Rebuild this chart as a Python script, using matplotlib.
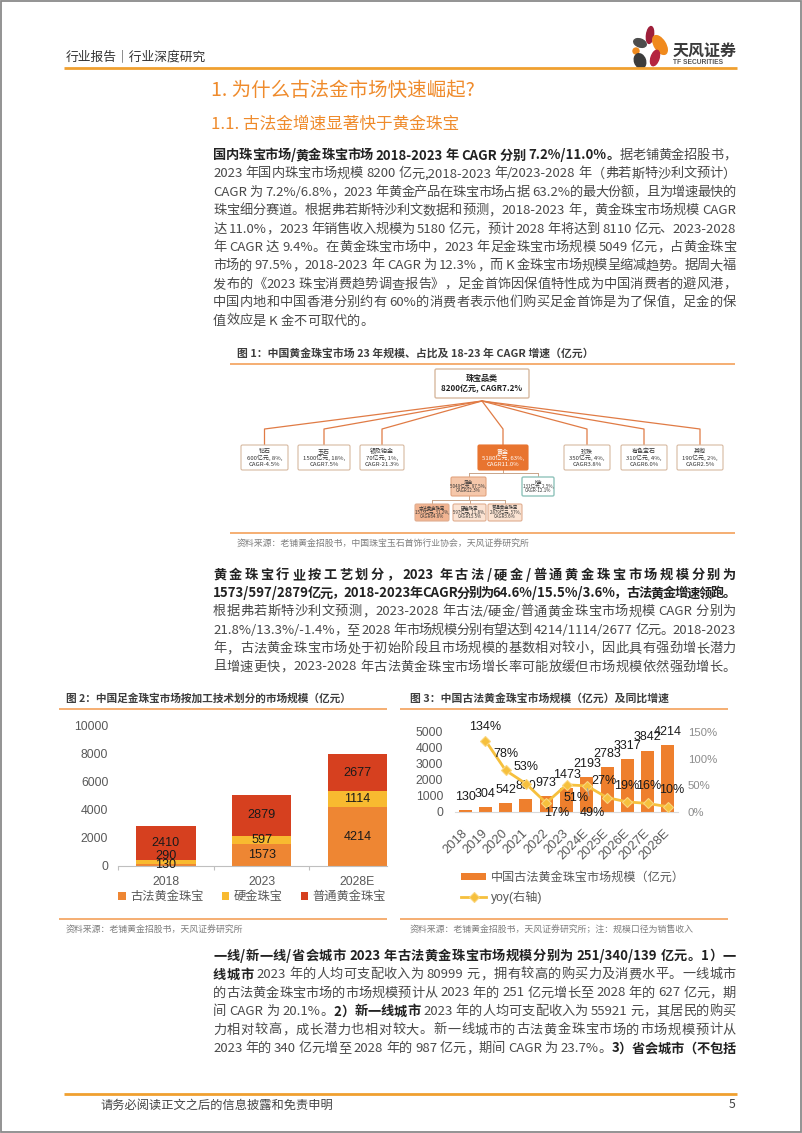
import numpy as np
import matplotlib
matplotlib.use('Agg')
import matplotlib.pyplot as plt
from matplotlib.patches import FancyBboxPatch, Ellipse, Rectangle, Circle
from matplotlib.font_manager import FontProperties

W, H = 802, 1133
CJK = ['Noto Sans CJK SC', 'DejaVu Sans']
CHART = ['Liberation Sans', 'Noto Sans CJK SC', 'DejaVu Sans']
plt.rcParams['font.family'] = CJK
plt.rcParams['axes.unicode_minus'] = False

# ---------------- data ----------------
header_left = '行业报告｜行业深度研究'
logo_name = '天风证券'
logo_en = 'TF SECURITIES'
title_1 = '1. 为什么古法金市场快速崛起?'
title_11 = '1.1. 古法金增速显著快于黄金珠宝'

p1_lines = [
    '*国内珠宝市场/黄金珠宝市场 2018-2023 年 CAGR 分别 7.2%/11.0%。*据老铺黄金招股书，',
    '2023 年国内珠宝市场规模 8200 亿元,2018-2023 年/2023-2028 年（弗若斯特沙利文预计）',
    'CAGR 为 7.2%/6.8%，2023 年黄金产品在珠宝市场占据 63.2%的最大份额，且为增速最快的',
    '珠宝细分赛道。根据弗若斯特沙利文数据和预测，2018-2023 年，黄金珠宝市场规模 CAGR',
    '达 11.0%，2023 年销售收入规模为 5180 亿元，预计 2028 年将达到 8110 亿元、2023-2028',
    '年 CAGR 达 9.4%。在黄金珠宝市场中，2023 年足金珠宝市场规模 5049 亿元，占黄金珠宝',
    '市场的 97.5%，2018-2023 年 CAGR 为 12.3%，而 K 金珠宝市场规模呈缩减趋势。据周大福',
    '发布的《2023 珠宝消费趋势调查报告》，足金首饰因保值特性成为中国消费者的避风港，',
    '中国内地和中国香港分别约有 60%的消费者表示他们购买足金首饰是为了保值，足金的保',
    '值效应是 K 金不可取代的。',
]
p2_lines = [
    '*黄金珠宝行业按工艺划分，2023 年古法/硬金/普通黄金珠宝市场规模分别为*',
    '*1573/597/2879亿元，2018-2023年CAGR分别为64.6%/15.5%/3.6%，古法黄金增速领跑。*',
    '根据弗若斯特沙利文预测，2023-2028 年古法/硬金/普通黄金珠宝市场规模 CAGR 分别为',
    '21.8%/13.3%/-1.4%，至 2028 年市场规模分别有望达到 4214/1114/2677 亿元。2018-2023',
    '年，古法黄金珠宝市场处于初始阶段且市场规模的基数相对较小，因此具有强劲增长潜力',
    '且增速更快，2023-2028 年古法黄金珠宝市场增长率可能放缓但市场规模依然强劲增长。',
]
p3_lines = [
    '*一线/新一线/省会城市 2023 年古法黄金珠宝市场规模分别为 251/340/139 亿元。1）一*',
    '*线城市* 2023 年的人均可支配收入为 80999 元，拥有较高的购买力及消费水平。一线城市',
    '的古法黄金珠宝市场的市场规模预计从 2023 年的 251 亿元增长至 2028 年的 627 亿元，期',
    '间 CAGR 为 20.1%。*2）新一线城市* 2023 年的人均可支配收入为 55921 元，其居民的购买',
    '力相对较高，成长潜力也相对较大。新一线城市的古法黄金珠宝市场的市场规模预计从',
    '2023 年的 340 亿元增至 2028 年的 987 亿元，期间 CAGR 为 23.7%。*3）省会城市（不包括*',
]

fig1_title = '图 1：中国黄金珠宝市场 23 年规模、占比及 18-23 年 CAGR 增速（亿元）'
fig1_source = '资料来源：老铺黄金招股书，中国珠宝玉石首饰行业协会，天风证券研究所'
tree_root = ['珠宝品类', '8200亿元, CAGR7.2%']
cat_names = ['钻石', '玉石', '银及铂金', '黄金', '珍珠', '有色宝石', '其他']
cat_size = [600, 1500, 70, 5180, 350, 310, 190]
cat_share = ['8%', '18%', '1%', '63%', '4%', '4%', '2%']
cat_cagr = ['-4.5%', '7.5%', '-21.3%', '11.0%', '3.8%', '6.0%', '2.5%']
gold_names = ['足金', 'K金']
gold_size = [5049, 131]
gold_share = ['97.5%', '2.5%']
gold_cagr = ['12.3%', '-12.1%']
zujin_names = ['古法黄金珠宝', '硬金珠宝', '普通黄金珠宝']
zujin_size = [1573, 597, 2879]
zujin_share = ['31.2%', '11.8%', '57%']
zujin_cagr = ['64.6%', '15.5%', '3.6%']

fig2_title = '图 2：中国足金珠宝市场按加工技术划分的市场规模（亿元）'
fig2_source = '资料来源：老铺黄金招股书，天风证券研究所'
fig2_years = ['2018', '2023', '2028E']
fig2_series = ['古法黄金珠宝', '硬金珠宝', '普通黄金珠宝']
fig2_gufa = [130, 1573, 4214]
fig2_yingjin = [290, 597, 1114]
fig2_putong = [2410, 2879, 2677]

fig3_title = '图 3：中国古法黄金珠宝市场规模（亿元）及同比增速'
fig3_source = '资料来源：老铺黄金招股书，天风证券研究所；注：规模口径为销售收入'
fig3_years = ['2018', '2019', '2020', '2021', '2022', '2023', '2024E', '2025E', '2026E', '2027E', '2028E']
fig3_size = [130, 304, 542, 830, 973, 1473, 2193, 2783, 3317, 3842, 4214]
fig3_yoy = [np.nan, 1.34, 0.78, 0.53, 0.17, 0.51, 0.49, 0.27, 0.19, 0.16, 0.10]
fig3_bar_label = '中国古法黄金珠宝市场规模（亿元）'
fig3_line_label = 'yoy(右轴)'

footer_text = '请务必阅读正文之后的信息披露和免责申明'
page_no = '5'

# ---------------- styles ----------------
ORANGE_T = '#EF8B2C'
LINE_OR = '#F3A15A'
BODY = '#4a4a4a'
BOLD = '#222222'
C_GUFA = '#EE8633'
C_YING = '#F8BA30'
C_PUTONG = '#D6401F'
C_BAR3 = '#EE7F2D'
C_YOY = '#F6C03D'

fig = plt.figure(figsize=(W / 100, H / 100), dpi=100)
fig.patch.set_facecolor('white')
page = fig.add_axes([0, 0, 1, 1])
page.set_xlim(0, W)
page.set_ylim(H, 0)
page.axis('off')
renderer = fig.canvas.get_renderer()


def frect(x0, y0, x1, y1):
    return [x0 / W, 1 - y1 / H, (x1 - x0) / W, (y1 - y0) / H]


def ptext(x, y, s, size, color='#333333', weight='normal', ha='left', va='center', family=CJK, **kw):
    return page.text(x, y, s, fontsize=size, color=color, fontweight=weight,
                     ha=ha, va=va, family=family, **kw)


def hline(x0, x1, y, color=LINE_OR, lw=1.2):
    page.plot([x0, x1], [y, y], color=color, lw=lw, solid_capstyle='butt')


# ---------------- justified paragraph text ----------------
_adv = {}


def advance(tok, bold, size):
    key = (tok, bold, size)
    if key not in _adv:
        prop = FontProperties(family=CJK, weight='bold' if bold else 'normal', size=size)
        w1 = renderer.get_text_width_height_descent('H' + tok + 'H', prop, ismath=False)[0]
        w0 = renderer.get_text_width_height_descent('HH', prop, ismath=False)[0]
        _adv[key] = w1 - w0
    return _adv[key]


def tokenize(line):
    toks = []
    state = {'bold': False, 'buf': '', 'space': False}

    def flush():
        if state['buf']:
            toks.append((state['buf'], state['bold'], state['space']))
            state['space'] = False
            state['buf'] = ''
    for ch in line:
        if ch == '*':
            flush()
            state['bold'] = not state['bold']
        elif ch == ' ':
            flush()
            state['space'] = True
        elif ord(ch) < 128:
            state['buf'] += ch
        else:
            flush()
            toks.append((ch, state['bold'], state['space']))
            state['space'] = False
    flush()
    return toks


def draw_line(line, x0, x1, y, size, justify=True):
    toks = tokenize(line)
    widths = [advance(t, b, size) for t, b, s in toks]
    sp = advance(' ', False, size)
    natural = sum(widths) + sum(sp for k, (t, b, s) in enumerate(toks) if s and k > 0)
    gaps = len(toks) - 1
    extra = (x1 - x0 - natural) / gaps if (justify and gaps > 0) else 0.0
    x = x0
    for k, (t, b, s) in enumerate(toks):
        if k > 0:
            x += extra
            if s:
                x += sp
        page.text(x, y, t, fontsize=size, color=BOLD if b else BODY,
                  fontweight='bold' if b else 'normal', ha='left', va='center', family=CJK)
        x += widths[k]


def draw_par(lines, y0, dy, size=9.5, x0=213, x1=736, justify_last=True):
    for i, ln in enumerate(lines):
        last = (i == len(lines) - 1)
        draw_line(ln, x0, x1, y0 + i * dy, size, justify=(justify_last or not last))


# ---------------- page frame / header / footer ----------------
page.add_patch(Rectangle((0.8, 0.8), W - 1.6, H - 1.6, fill=False, ec='#8a8a8a', lw=1.3, clip_on=False))
ptext(66, 58, header_left, 9.2, color='#333333')
hline(64, 737, 68, color='#F0A030', lw=2.0)
# logo
page.add_patch(Ellipse((650, 35), 7, 17, angle=8, color='#9E1F3A'))
page.add_patch(Ellipse((660, 45), 11, 21, angle=-32, color='#F08A1D'))
page.add_patch(Ellipse((640, 43), 13, 8, angle=20, color='#4D4D4D'))
page.add_patch(Circle((636, 51), 3, color='#F08A1D'))
page.add_patch(Ellipse((640, 61), 11, 15, angle=-20, color='#3C3C3C'))
page.add_patch(Ellipse((655, 58), 8, 16, angle=18, color='#B5243F'))
ptext(673, 51, logo_name, 11.5, color='#3a3a3a', weight='bold')
ptext(673, 63, logo_en, 4.8, color='#555555', weight='bold', family=CHART)

hline(64, 737, 1094, color='#F0A030', lw=2.0)
ptext(100, 1105, footer_text, 8.8, color='#444444')
ptext(735, 1105, page_no, 8.8, color='#444444', ha='right')

# titles
ptext(211, 90, title_1, 14, color=ORANGE_T)
ptext(211, 124, title_11, 12, color=ORANGE_T)

# paragraphs
draw_par(p1_lines, 155.5, 18.4, justify_last=False)
draw_par(p2_lines, 575, 18.4)
draw_par(p3_lines, 956, 18.5)

# ---------------- figure 1 (tree) ----------------
ptext(237, 353, fig1_title, 7.8, color='#3d3d3d', weight='bold')
hline(230, 735, 364)
hline(230, 735, 533)
ptext(237, 544, fig1_source, 6.4, color='#7f7f7f')


def box(x0, y0, x1, y1, fc='white', ec='#D7B9A0', lw=0.8):
    page.add_patch(FancyBboxPatch((x0, y0), x1 - x0, y1 - y0,
                                  boxstyle='round,pad=0,rounding_size=1.5',
                                  fc=fc, ec=ec, lw=lw, zorder=3))


def seg(pts, color='#E07B45', lw=0.9):
    xs, ys = zip(*pts)
    page.plot(xs, ys, color=color, lw=lw, zorder=2)


box(435, 369, 529, 398, ec='#D7B9A0', lw=1.0)
ptext(482, 378, tree_root[0], 5.8, color='#222222', weight='bold', ha='center', zorder=4)
ptext(482, 389, tree_root[1], 5.8, color='#222222', weight='bold', ha='center', zorder=4)

cat_box = [(241, 288), (298, 350), (360, 404), (478, 528), (564, 610), (621, 667), (677, 723)]
for i, (bx0, bx1) in enumerate(cat_box):
    cx = (bx0 + bx1) / 2
    seg([(482, 401), (cx, 429), (cx, 445)])
    gold = cat_names[i] == '黄金'
    box(bx0, 445, bx1, 470, fc='#E8742F' if gold else 'white', ec='#E8742F' if gold else '#D7B9A0')
    tc = 'white' if gold else '#333333'
    ptext(cx, 451, cat_names[i], 4.3, color=tc, ha='center', zorder=4)
    ptext(cx, 457.5, f'{cat_size[i]}亿元, {cat_share[i]},', 4.3, color=tc, ha='center', zorder=4)
    ptext(cx, 464, f'CAGR{cat_cagr[i]}', 4.3, color=tc, ha='center', zorder=4)

gold_box = [(451, 486), (522, 554)]
seg([(503, 470), (503, 473)], color='#C9A58A', lw=0.7)
seg([(468.5, 473), (538, 473)], color='#C9A58A', lw=0.7)
for i, (bx0, bx1) in enumerate(gold_box):
    cx = (bx0 + bx1) / 2
    seg([(cx, 473), (cx, 477)], color='#C9A58A', lw=0.7)
    if i == 0:
        box(bx0, 477, bx1, 496, fc='#F5C7AA', ec='#E3A47F')
    else:
        box(bx0, 477, bx1, 496, fc='white', ec='#8FC3BB', lw=1.0)
    ptext(cx, 482, gold_names[i], 3.3, color='#333333', ha='center', zorder=4)
    ptext(cx, 486.5, f'{gold_size[i]}亿元, {gold_share[i]},', 3.3, color='#333333', ha='center', zorder=4)
    ptext(cx, 491, f'CAGR{gold_cagr[i]}', 3.3, color='#333333', ha='center', zorder=4)

zj_box = [(415, 449), (453, 486), (488, 522)]
seg([(468.5, 496), (468.5, 500)], color='#C9A58A', lw=0.7)
seg([(432, 500), (505, 500)], color='#C9A58A', lw=0.7)
for i, (bx0, bx1) in enumerate(zj_box):
    cx = (bx0 + bx1) / 2
    seg([(cx, 500), (cx, 504)], color='#C9A58A', lw=0.7)
    box(bx0, 504, bx1, 521, fc='#F2B491' if i == 0 else '#FBE3D3', ec='#E0AE90')
    ptext(cx, 508, zujin_names[i], 3.2, color='#333333', ha='center', zorder=4)
    ptext(cx, 512.5, f'{zujin_size[i]}亿元, {zujin_share[i]},', 3.2, color='#333333', ha='center', zorder=4)
    ptext(cx, 517, f'CAGR{zujin_cagr[i]}', 3.2, color='#333333', ha='center', zorder=4)

# ---------------- figure 2 ----------------
ptext(66, 698, fig2_title, 7.7, color='#3d3d3d', weight='bold')
hline(59, 387, 709)
hline(59, 387, 919)
ptext(66, 930, fig2_source, 6.4, color='#7f7f7f')

ax2 = fig.add_axes(frect(118, 726, 387, 866))
ax2.set_facecolor('none')
x2 = np.arange(len(fig2_years))
bw2 = 0.62
bot2 = np.array(fig2_gufa)
bot3 = bot2 + np.array(fig2_yingjin)
b1 = ax2.bar(x2, fig2_gufa, width=bw2, color=C_GUFA, label=fig2_series[0])
b2 = ax2.bar(x2, fig2_yingjin, width=bw2, bottom=bot2, color=C_YING, label=fig2_series[1])
b3 = ax2.bar(x2, fig2_putong, width=bw2, bottom=bot3, color=C_PUTONG, label=fig2_series[2])
ax2.set_xlim(-0.5, 2.31)
ax2.set_ylim(0, 10000)
ax2.set_yticks(np.arange(0, 10001, 2000))
ax2.set_xticks(x2, fig2_years)
ax2.set_xticks([-0.5, 0.5, 1.5], minor=True)
for s in ['left', 'right', 'top']:
    ax2.spines[s].set_visible(False)
ax2.spines['bottom'].set_color('#BFBFBF')
ax2.spines['bottom'].set_linewidth(0.8)
ax2.tick_params(axis='y', length=0, pad=7, labelsize=8.8, labelcolor='#595959', labelfontfamily=CHART)
ax2.tick_params(axis='x', which='major', length=0, pad=7, labelsize=8.8, labelcolor='#595959', labelfontfamily=CHART)
ax2.tick_params(axis='x', which='minor', length=3, color='#BFBFBF', width=0.8)
nudge2 = {(0, 1): 6}
for si, (vals, bots) in enumerate([(fig2_gufa, np.zeros(3)), (fig2_yingjin, bot2), (fig2_putong, bot3)]):
    for i, v in enumerate(vals):
        dy = nudge2.get((i, si), 0) * 0.72
        ax2.annotate(str(v), (i, bots[i] + v / 2), xytext=(0, dy), textcoords='offset points',
                     ha='center', va='center', fontsize=9.1, color='#1a1a1a', family=CHART)
fig.legend([b1, b2, b3], fig2_series, loc='center', bbox_to_anchor=(252 / W, 1 - 897 / H),
           ncol=3, frameon=False, handlelength=0.6, handleheight=0.6,
           handletextpad=0.35, columnspacing=1.5, labelcolor='#595959',
           prop={'family': CHART, 'size': 8.8})

# ---------------- figure 3 ----------------
ptext(410, 698, fig3_title, 7.8, color='#3d3d3d', weight='bold')
hline(400, 728, 709)
hline(400, 728, 919)
ptext(410, 930, fig3_source, 6.4, color='#7f7f7f')

ax3 = fig.add_axes(frect(455, 732, 678, 812))
ax3.set_facecolor('none')
x3 = np.arange(len(fig3_years))
bars3 = ax3.bar(x3, fig3_size, width=0.64, color=C_BAR3, label=fig3_bar_label)
ax3.set_xlim(-0.5, 10.5)
ax3.set_ylim(0, 5000)
ax3.set_yticks(np.arange(0, 5001, 1000))
ax3.set_xticks(x3, fig3_years, rotation=45, ha='right', va='center', rotation_mode='anchor')
for s in ['left', 'right', 'top']:
    ax3.spines[s].set_visible(False)
ax3.spines['bottom'].set_color('#D9D9D9')
ax3.spines['bottom'].set_linewidth(0.8)
ax3.tick_params(axis='y', length=0, pad=8.5, labelsize=8.8, labelcolor='#595959', labelfontfamily=CHART)
ax3.tick_params(axis='x', length=0, pad=14, labelsize=9.3, labelcolor='#595959', labelfontfamily=CHART)
for i, v in enumerate(fig3_size):
    ax3.annotate(str(v), (i, v), xytext=(0, 9.4), textcoords='offset points',
                 ha='center', va='center', fontsize=9.0, color='#1a1a1a', family=CHART)

ax3b = ax3.twinx()
ax3b.set_ylim(0, 1.5)
ax3b.set_yticks([0, 0.5, 1.0, 1.5], ['0%', '50%', '100%', '150%'])
for s in ax3b.spines.values():
    s.set_visible(False)
ax3b.tick_params(axis='y', length=0, pad=7, labelsize=8.2, labelcolor='#8c8c8c', labelfontfamily=CHART)
line3, = ax3b.plot(x3, fig3_yoy, color=C_YOY, lw=2.0, marker='D', ms=5,
                   mfc=C_YOY, mec='#FAD67E', mew=0.8, label=fig3_line_label)
yoy_off = {1: (0, -14), 2: (0, -16), 3: (0, -17), 4: (10, 10), 5: (10, 13), 6: (6, 27),
           7: (-3, -17), 8: (-1, -16), 9: (1, -17), 10: (4, -17)}
for i, v in enumerate(fig3_yoy):
    if np.isnan(v):
        continue
    dx, dy = yoy_off[i]
    kw = {}
    if i == 6:
        kw['arrowprops'] = dict(arrowstyle='-', color='#A6A6A6', lw=0.8, shrinkA=6, shrinkB=2)
    ax3b.annotate(f'{v * 100:.0f}%', (i, v), xytext=(dx * 0.72, -dy * 0.72), textcoords='offset points',
                  ha='center', va='center', fontsize=9.0, color='#1a1a1a', family=CHART, **kw)

fig.legend([bars3, line3], [fig3_bar_label, fig3_line_label], loc='upper left',
           bbox_to_anchor=(450 / W, 1 - 861 / H), ncol=1, frameon=False,
           handlelength=2.1, handleheight=0.6, handletextpad=0.35, labelspacing=0.6,
           labelcolor='#595959', prop={'family': CHART, 'size': 8.7})

fig.savefig('out.png', dpi=100, facecolor='white')
